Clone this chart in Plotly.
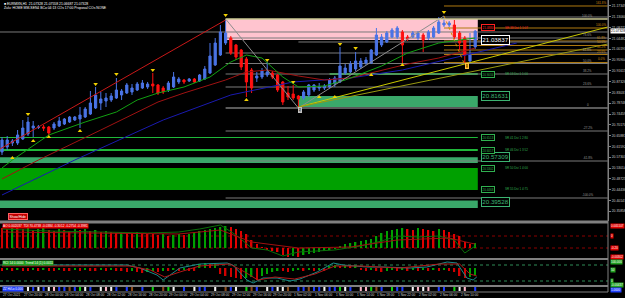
import plotly.graph_objects as go

# ---------------- data ----------------
OPEN = [20.5938, 20.6136, 20.6295, 20.6295, 20.6454, 20.6652, 20.6890, 20.6910, 20.6930, 20.6930,
        20.6890, 20.6970, 20.7049, 20.7129, 20.7208, 20.7248, 20.7327, 20.7446, 20.7684, 20.7883,
        20.7962, 20.8002, 20.8081, 20.8201, 20.8280, 20.8320, 20.8399, 20.8478, 20.8518, 20.8637,
        20.8598, 20.8478, 20.8399, 20.8518, 20.8717, 20.8796, 20.8756, 20.8836, 20.8756, 20.8836,
        20.9074, 20.9392, 20.9789, 21.0265, 21.0463, 21.0186, 20.9987, 20.9630, 20.9193, 20.8875,
        20.8915, 20.8995, 20.9074, 20.8995, 20.8717, 20.8280, 20.8240, 20.8161, 20.8081, 20.8201,
        20.8399, 20.8478, 20.8478, 20.8518, 20.8637, 20.8717, 20.9074, 20.9114, 20.9233, 20.9312,
        20.9471, 20.9471, 20.9789, 21.0186, 21.0305, 21.0503, 21.0503, 21.0702, 21.0503, 21.0503,
        21.0463, 21.0583, 21.0463, 21.0503, 21.0662, 21.0980, 21.0980, 21.0980, 21.0662, 21.0463,
        20.9550, 21.0106]
HIGH = [20.6533, 20.6573, 20.6454, 20.6811, 20.7208, 20.7327, 20.7168, 20.7010, 20.7010, 20.6970,
        20.7129, 20.7327, 20.7287, 20.7367, 20.7367, 20.7724, 20.7724, 20.8359, 20.8518, 20.8320,
        20.8280, 20.8280, 20.8875, 20.8439, 20.8677, 20.8637, 20.8717, 20.8796, 20.8717, 20.9074,
        20.8637, 20.8558, 20.8756, 20.9114, 20.8915, 20.8836, 20.8875, 20.8875, 20.9034, 20.9352,
        21.0265, 21.0463, 21.0980, 21.1178, 21.0543, 21.0225, 21.0027, 20.9709, 20.9272, 20.9114,
        20.9272, 20.9511, 20.9153, 20.9034, 20.8756, 20.8558, 20.8598, 20.8201, 20.8399, 20.8637,
        20.8637, 20.8677, 20.8637, 20.8875, 20.8955, 21.0106, 20.9431, 20.9550, 20.9908, 20.9669,
        20.9709, 21.0027, 21.0860, 21.0622, 21.0741, 21.0860, 21.0940, 21.0781, 21.0583, 21.0741,
        21.0741, 21.0662, 21.0781, 21.0940, 21.1297, 21.1337, 21.1138, 21.1178, 21.0741, 21.0543,
        21.0662, 21.0781]
LOW = [20.5818, 20.6017, 20.6176, 20.6216, 20.6414, 20.6573, 20.6533, 20.6851, 20.6771, 20.6613,
       20.6811, 20.6930, 20.7010, 20.7089, 20.7168, 20.6890, 20.7287, 20.7407, 20.7645, 20.7605,
       20.7724, 20.7923, 20.8042, 20.8002, 20.8240, 20.8201, 20.8359, 20.8439, 20.8439, 20.8280,
       20.8201, 20.8240, 20.8320, 20.8478, 20.8637, 20.8637, 20.8717, 20.8677, 20.8717, 20.8796,
       20.9034, 20.9352, 20.9749, 21.0186, 20.9789, 20.9590, 20.9193, 20.8121, 20.8280, 20.8717,
       20.8836, 20.8915, 20.8836, 20.8320, 20.7804, 20.8002, 20.8002, 20.7724, 20.8002, 20.8121,
       20.8320, 20.8359, 20.8399, 20.8478, 20.8518, 20.8677, 20.8995, 20.9074, 20.9153, 20.9233,
       20.9392, 20.9431, 20.9749, 21.0106, 21.0265, 21.0463, 21.0424, 20.9471, 21.0344, 21.0463,
       21.0384, 20.9908, 21.0384, 21.0463, 21.0622, 21.0900, 21.0900, 21.0424, 20.9987, 20.9471,
       20.9471, 21.0027]
CLOSE = [20.6414, 20.6414, 20.6374, 20.6613, 20.6890, 20.7129, 20.6970, 20.6930, 20.6890, 20.6692,
         20.7049, 20.7168, 20.7248, 20.7327, 20.7327, 20.7407, 20.7645, 20.7883, 20.8201, 20.8042,
         20.8081, 20.8161, 20.8399, 20.8359, 20.8598, 20.8478, 20.8637, 20.8677, 20.8637, 20.8558,
         20.8280, 20.8320, 20.8677, 20.8915, 20.8836, 20.8717, 20.8836, 20.8717, 20.8995, 20.9233,
         20.9749, 21.0265, 21.0702, 21.0662, 20.9868, 20.9709, 20.9312, 20.8717, 20.8478, 20.8955,
         20.9153, 20.9114, 20.8915, 20.8399, 20.7923, 20.8121, 20.8081, 20.8042, 20.8320, 20.8598,
         20.8598, 20.8518, 20.8558, 20.8796, 20.8875, 20.9352, 20.9272, 20.9431, 20.9550, 20.9550,
         20.9590, 20.9987, 21.0583, 21.0503, 21.0662, 21.0781, 21.0860, 21.0186, 21.0424, 21.0662,
         21.0662, 21.0384, 21.0702, 21.0860, 21.1099, 21.1059, 21.1059, 21.0503, 21.0265, 20.9789,
         20.9789, 21.07328]
BARS = list(range(len(CLOSE)))

TIME_LABEL_BARS = [0, 4, 8, 12, 16, 20, 24, 28, 32, 36, 40, 44, 48, 52, 56, 60, 64, 68, 72, 76, 80, 84, 88]
TIME_LABELS = ["27 Oct 2021", "27 Oct 20:00", "28 Oct 00:00", "28 Oct 04:00", "28 Oct 08:00",
               "28 Oct 12:00", "28 Oct 16:00", "28 Oct 20:00", "29 Oct 00:00", "29 Oct 04:00",
               "29 Oct 08:00", "29 Oct 12:00", "29 Oct 16:00", "29 Oct 20:00", "1 Nov 02:00",
               "1 Nov 06:00", "1 Nov 10:00", "1 Nov 14:00", "1 Nov 18:00", "1 Nov 22:00",
               "2 Nov 02:00", "2 Nov 06:00", "2 Nov 10:00"]

PRICE_TICKS = [21.17349, 21.13060, 21.08771, 21.04482, 21.00193, 20.95904, 20.91615, 20.87326,
               20.83037, 20.78748, 20.74459, 20.70170, 20.65881, 20.61592, 20.57303, 20.53014,
               20.48725, 20.44436, 20.40147, 20.35858]
LAST_PRICE = 21.07328
PRICE_MIN, PRICE_MAX = 20.31983, 21.1972

GREEN_MA_BARS = [0, 2, 9, 16, 22, 26, 30, 35, 40, 44, 47, 50, 54, 57, 62, 66, 70, 73, 78, 84, 88, 91]
GREEN_MA = [20.5302, 20.5620, 20.6613, 20.7129, 20.7526, 20.8002, 20.8280, 20.8518, 20.8915, 20.9511,
            20.9789, 20.9669, 20.8915, 20.8518, 20.8558, 20.8796, 20.9114, 20.9352, 20.9868, 21.0265,
            21.0384, 21.0463]
DARKRED_MA_BARS = [0, 7, 19, 30, 35, 43, 47, 51, 57, 62, 67, 73, 78, 84, 91]
DARKRED_MA = [20.4866, 20.5620, 20.6811, 20.7923, 20.8280, 20.8796, 20.9114, 20.9193, 20.8955, 20.8796,
              20.8875, 20.9193, 20.9431, 20.9669, 21.0066]
BLUE_MA_BARS = [0, 14, 31, 44, 56, 67, 77, 91, 99]
BLUE_MA = [20.4231, 20.5620, 20.7208, 20.8201, 20.8717, 20.8875, 20.9193, 20.9868, 21.0265]

CHANNEL_BARS = [-0.4, 43]
CHANNEL = [20.6057, 21.1178]
ZIGZAG_BARS = [43, 57, 85]
ZIGZAG = [21.1218, 20.7684, 21.1337]
ZIGZAG2_BARS = [85, 89]
ZIGZAG2 = [21.1337, 20.9392]
RAY_END_BAR = 116.5
TREND1_BARS = [57, RAY_END_BAR]
TREND1 = [20.7724, 21.0900]
TREND2_BARS = [57, RAY_END_BAR]
TREND2 = [20.7724, 21.0225]

FRACTAL_UP_BARS = [5, 18, 22, 29, 43, 51, 56, 65, 68, 85]
FRACTAL_UP = [20.7446, 20.8637, 20.9034, 20.9193, 21.1377, 20.9590, 20.8717, 21.0225, 21.0066, 21.1496]
FRACTAL_DN_BARS = [2, 6, 9, 15, 47, 61, 64, 71, 77]
FRACTAL_DN = [20.5699, 20.6374, 20.6533, 20.6771, 20.8002, 20.8121, 20.8121, 20.8995, 20.9392]

ZONE_START = [43, 63, 57, -1, -1, -1, -1, -1]
ZONE_TOP = [21.1218, 20.9074, 20.81631, 20.6533, 20.6057, 20.57309, 20.5302, 20.4010]
ZONE_BOTTOM = [21.03837, 20.8995, 20.7724, 20.6493, 20.5977, 20.5501, 20.4429, 20.3714]
ZONE_KIND = ["supply", "thin", "demand", "thin", "thin", "demand", "strong", "demand"]
ZONE_END_BAR = 91.5

FIB_GRAY_START = 43
FIB_GRAY = [21.1218, 21.0463, 20.9868, 20.9451, 20.9034, 20.8518, 20.7684, 20.6771, 20.5580, 20.4111]
FIB_GRAY_LABELS = ["100.0%", "78.6%", "61.8%", "50.0%", "38.2%", "23.6%", "0", "-27.2%", "-61.8%", "-100.0%"]
FIB_ORANGE_START = 85
FIB_ORANGE = [21.1734, 21.0860, 21.0344, 21.0166, 20.9987, 20.9808, 20.9491]
FIB_ORANGE_LABELS = ["161.8%", "100.0%", "61.8%", "50.0%", "38.2%", "23.6%", "0.0%"]

HLINE_PRICES = [21.0702, 21.1297, 21.0305]
HLINE_START = [-1, 85, 57]

BIG_LABELS = [21.03837, 20.81631, 20.57309, 20.39528]
SMALL_LABELS = [21.0880, 20.9034, 20.6513, 20.6017, 20.5302, 20.4468]
SMALL_LABEL_NOTES = ["SR 38 Dst 1 1:07", "SR 18 Dst 1 1:00", "SR 41 Dst 1 2:80",
                     "SR 46 Dst 1 3:52", "SR 50 Dst 1 4:00", "SR 55 Dst 1 4:75"]

AO = [20, 19, 21, 20, 19, 20, 18, 19, 20, 18, 17, 19, 18, 17, 19, 18, 19, 17, 18, 16,
      17, 16, 15, 16, 15, 14, 16, 15, 14, 14, 13, 14, 12, 13, 14, 13, 14, 15, 17, 18,
      19, 20, 21, 22, 21, 19, 17, 14, 8, 4, 1, -2, -3, -4, -7, -9, -8, -9, -7, -6,
      -5, -4, -3, -2, -1, 2, 4, 5, 6, 7, 8, 9, 12, 15, 17, 18, 19, 20, 19, 18,
      20, 19, 18, 17, 19, 18, 16, 14, 12, 6, 4, 5]
AO_LINE_BARS = [0, 9, 19, 28, 34, 38, 42, 45, 48, 51, 54, 57, 64, 69, 73, 76, 80, 84, 87, 89, 91]
AO_LINE = [19, 17, 16, 15, 16, 19, 23, 13, 0, -2, -8, -4, -2, 2, 7, 12, 11, 12, 8, -5, 2]
AO_SIG_BARS = [0, 19, 34, 42, 48, 57, 67, 76, 86, 90, 91]
AO_SIG = [16, 15, 14, 18, 6, 0, 1, 8, 10, 5, 4]
AO_LEVELS = [12, 0]

RCI_HIST = [-3, -2, -3, -2, -3, -3, -2, -3, -2, -3, -3, -2, -3, -3, -2, -3, -2, -3, -3, -2,
            -3, -2, -3, -3, -4, -3, -4, -5, -4, -3, -4, -3, -3, -2, -3, -2, -3, -3, 4, 5,
            4, 5, -6, -8, -9, -10, -11, -10, -9, -12, -8, -6, -4, -3, -3, -4, -3, -2, -3, -2,
            -3, -2, -3, 2, 3, 2, 3, 2, 3, -2, -3, -2, -3, -4, -3, -2, -3, -2, -3, -2,
            -3, -2, -3, -2, -3, -2, -3, -4, -8, -10, -9, -7]
RCI_FAST_BARS = [0, 24, 26.5, 29.8, 31, 32.3, 34.2, 38, 43.3, 44.4, 47.1, 48.3, 50.2, 52.9, 55.4,
                 57.3, 60.6, 63.7, 65.6, 70.2, 73.3, 78.5, 81.7, 85.6, 87.5, 89.4, 90.6, 91.3]
RCI_FAST = [3, 3, 0, -7, -12, -7, 0, 4, 5, 3, -12, -15, -10, -10, -13, -11, -4, 5, 3, 1, 1, 0, 1,
            6, 5, -10, -12, -9]
RCI_SLOW_BARS = [0, 24.6, 28.5, 31.3, 34.2, 38, 43.8, 46.7, 49.2, 52.5, 56.3, 60.2, 64, 68.8, 76.5,
                 84.2, 88, 90, 91.3]
RCI_SLOW = [2, 2, -2, -9, -4, 2, 4, -4, -12, -9, -11, -6, 2, 2, 0, 4, 4, -6, -8]
RCI_LEVELS = [3, -13]

STRIP_BARS = [5, 6, 7, 8, 9, 10, 11, 12, 13, 14, 15, 16, 17, 19, 20, 21, 22, 24, 25, 27, 29, 31, 32,
              33, 35, 37, 38, 39, 41, 43, 44, 45, 47, 48, 49, 51, 52, 53, 54, 55, 57, 58, 59, 60, 61,
              62, 63, 64, 65, 66, 67, 69, 70, 71, 72, 73, 75, 76, 77, 79, 80, 81, 82, 84, 85, 87,
              88, 89, 91]
STRIP_STATE = ["w", "b", "w", "b", "w", "p", "b", "b", "r", "b", "g", "w", "b", "w", "p", "w", "b",
               "b", "r", "b", "g", "r", "g", "w", "b", "w", "b", "b", "w", "r", "b", "w", "g", "r",
               "b", "w", "b", "w", "w", "r", "b", "b", "r", "b", "b", "w", "b", "b", "g", "w", "b",
               "p", "p", "g", "r", "b", "g", "b", "b", "w", "p", "w", "p", "b", "b", "g", "w", "p",
               "b"]

# ---------------- layout helpers ----------------
W, H = 625, 298
X_RANGE = [-0.385, 116.54]
XD = [0, 608 / W]


def py(p):
    return 1 - p / H


FONT = "Liberation Sans"
fig = go.Figure()

# candles
fig.add_trace(go.Candlestick(
    x=BARS, open=OPEN, high=HIGH, low=LOW, close=CLOSE, whiskerwidth=0,
    increasing=dict(line=dict(color="#4a74e6", width=1), fillcolor="#4a74e6"),
    decreasing=dict(line=dict(color="#ff1010", width=1), fillcolor="#ff1010"),
    xaxis="x", yaxis="y", showlegend=False, hoverinfo="skip"))


def line(xs, ys, color, width=1, dash="solid", ax=("x", "y")):
    fig.add_trace(go.Scatter(x=xs, y=ys, mode="lines", line=dict(color=color, width=width, dash=dash),
                             xaxis=ax[0], yaxis=ax[1], showlegend=False, hoverinfo="skip"))


line(CHANNEL_BARS, CHANNEL, "#c81818")
line(BLUE_MA_BARS, BLUE_MA, "#1a1ab0")
line(DARKRED_MA_BARS, DARKRED_MA, "#a01212")
line(GREEN_MA_BARS, GREEN_MA, "#12a012")
line(ZIGZAG_BARS, ZIGZAG, "#8c8c8c")
line(ZIGZAG2_BARS, ZIGZAG2, "#d08a00", dash="dot")
line(TREND1_BARS, TREND1, "#c8c800")
line(TREND2_BARS, TREND2, "#9a9a10")

fig.add_trace(go.Scatter(x=FRACTAL_UP_BARS, y=FRACTAL_UP, mode="markers",
                         marker=dict(symbol="triangle-down", size=4, color="#f0d000"),
                         showlegend=False, hoverinfo="skip"))
fig.add_trace(go.Scatter(x=FRACTAL_DN_BARS, y=FRACTAL_DN, mode="markers",
                         marker=dict(symbol="triangle-up", size=4, color="#f0d000"),
                         showlegend=False, hoverinfo="skip"))

# sub panel 1 (AO)
ao_colors = ["#d00000"] + ["#00a000" if AO[i] > AO[i - 1] else "#e00000" for i in range(1, len(AO))]
fig.add_trace(go.Bar(x=BARS, y=AO, marker=dict(color=ao_colors, line=dict(width=0)), width=0.3,
                     xaxis="x2", yaxis="y2", showlegend=False, hoverinfo="skip"))
line(AO_LINE_BARS, AO_LINE, "#0a6e0a", ax=("x2", "y2"))
line(AO_SIG_BARS, AO_SIG, "#a01010", ax=("x2", "y2"))

# sub panel 2 (RCI)
rci_colors = ["#d00000"] + ["#00a000" if RCI_HIST[i] > RCI_HIST[i - 1] else "#d00000"
                            for i in range(1, len(RCI_HIST))]
fig.add_trace(go.Bar(x=BARS, y=RCI_HIST, marker=dict(color=rci_colors, line=dict(width=0)), width=0.3,
                     xaxis="x3", yaxis="y3", showlegend=False, hoverinfo="skip"))
line(RCI_FAST_BARS, RCI_FAST, "#1a8c8c", ax=("x3", "y3"))
line(RCI_SLOW_BARS, RCI_SLOW, "#b01818", ax=("x3", "y3"))

# strip
STRIP_COLORS = {"w": "#f4f4f4", "b": "#1e3cff", "p": "#ffb6c8", "r": "#8b4a1a", "g": "#10d010"}
fig.add_trace(go.Bar(x=STRIP_BARS, y=[1] * len(STRIP_BARS),
                     marker=dict(color=[STRIP_COLORS[s] for s in STRIP_STATE], line=dict(width=0)),
                     width=0.4, xaxis="x4", yaxis="y4", showlegend=False, hoverinfo="skip"))

shapes = []
ZONE_FILL = {"supply": "#ffc4cf", "thin": "#1fb83a", "demand": "#3aa86a", "strong": "#00a000"}
for s, t, b, k in zip(ZONE_START, ZONE_TOP, ZONE_BOTTOM, ZONE_KIND):
    shapes.append(dict(type="rect", xref="x", yref="y", x0=s, x1=ZONE_END_BAR, y0=b, y1=t,
                       fillcolor=ZONE_FILL[k], line=dict(width=0), layer="below"))
for i, p in enumerate(FIB_GRAY):
    shapes.append(dict(type="line", xref="x", yref="y", x0=FIB_GRAY_START, x1=RAY_END_BAR, y0=p, y1=p,
                       line=dict(color="#5a5a5a" if i == 6 else "#7a7a7a", width=2 if i == 6 else 1),
                       layer="below"))
for p in FIB_ORANGE:
    shapes.append(dict(type="line", xref="x", yref="y", x0=FIB_ORANGE_START, x1=RAY_END_BAR, y0=p, y1=p,
                       line=dict(color="#b07a10", width=1), layer="below"))
for s, p in zip(HLINE_START, HLINE_PRICES):
    shapes.append(dict(type="line", xref="x", yref="y", x0=s, x1=RAY_END_BAR, y0=p, y1=p,
                       line=dict(color="#7a7a7a", width=1), layer="below"))
shapes.append(dict(type="line", xref="x", yref="y", x0=FIB_GRAY_START, x1=RAY_END_BAR,
                   y0=ZONE_TOP[0], y1=ZONE_TOP[0], line=dict(color="#f2f0a0", width=1)))
for lv in AO_LEVELS:
    shapes.append(dict(type="line", xref="paper", yref="y2", x0=0, x1=XD[1], y0=lv, y1=lv,
                       line=dict(color="#8b0000", width=1, dash="dot"), layer="below"))
for lv in RCI_LEVELS:
    shapes.append(dict(type="line", xref="paper", yref="y3", x0=0, x1=XD[1], y0=lv, y1=lv,
                       line=dict(color="#2e8b57", width=1, dash="dot"), layer="below"))
for yy, wd in [(222, 3), (259, 2), (286, 2), (292, 1)]:
    shapes.append(dict(type="line", xref="paper", yref="paper", x0=0, x1=XD[1], y0=py(yy), y1=py(yy),
                       line=dict(color="#808080", width=wd)))
shapes.append(dict(type="line", xref="paper", yref="paper", x0=XD[1], x1=XD[1], y0=py(292), y1=1,
                   line=dict(color="#808080", width=1)))

ann = []


def txt(x, y, text, size=3.2, color="#e0e0e0", xref="paper", yref="paper", xanchor="left",
        yanchor="middle", bg=None, border=None, pad=0):
    d = dict(x=x, y=y, xref=xref, yref=yref, text=text, showarrow=False, xanchor=xanchor,
             yanchor=yanchor, font=dict(size=size, color=color, family=FONT), borderpad=pad)
    if bg:
        d["bgcolor"] = bg
    if border:
        d["bordercolor"] = border
        d["borderwidth"] = 1
    ann.append(d)


txt(3 / W, py(4), "■ EURMXN,H1  21.07328 21.07558 21.06687 21.07328", size=3.4, color="#ffffff")
txt(3 / W, py(8.5), "Zulu: HOME MM-SEN4 BCo 04:13 COs 17:00 Proposal COs NONE", size=3.4, color="#ffffff")
txt(8 / W, py(216), "Show/Hide", size=3.4, color="#ffffff", bg="#c00000", border="#ff6060", pad=0.5)
txt(2 / W, py(225.5), "AO 0.002037  TDI 70.4738 -0.0384 -0.3012 -0.2754 -0.3981", size=3.2,
    color="#ffffff", bg="#e00000")
txt(2 / W, py(263), "RCI 14 0.0000  Trend 14 (1) 0.0011", size=3.2, color="#ffffff", bg="#20a020")
txt(2 / W, py(289), "ZZ Hi/Lo 0.000", size=3, color="#ffffff", bg="#2040ff")

for b, t in zip(TIME_LABEL_BARS, TIME_LABELS):
    txt(b, py(294.5), t, size=3.2, color="#d0d0d0", xref="x", xanchor="left")

txt(609.5 / W, LAST_PRICE, "21.07328", size=3.4, color="#000000", yref="y", bg="#ffffff")

for p, lab in zip(FIB_GRAY, FIB_GRAY_LABELS):
    txt(112.6, p, lab, size=3, color="#9a9a9a", xref="x", yref="y", xanchor="center", yanchor="bottom")
for p, lab in zip(FIB_ORANGE, FIB_ORANGE_LABELS):
    txt(115.3, p, lab, size=3, color="#d08c10", xref="x", yref="y", xanchor="center", yanchor="bottom")

for i, p in enumerate(BIG_LABELS):
    c = "#ffffff" if i == 0 else "#3cb371"
    txt(92.1, p, f"{p:.5f}", size=6.2, color=c, xref="x", yref="y", bg="#000000", border=c, pad=0.3)
for i, (p, note) in enumerate(zip(SMALL_LABELS, SMALL_LABEL_NOTES)):
    c = "#ff2020" if i == 0 else "#30b050"
    txt(92.1, p, f"{p:.4f}", size=3, color=c, xref="x", yref="y", bg="#000000", border=c, pad=0.5)
    txt(96.6, p, note, size=3, color=c, xref="x", yref="y")

for yy, t, bg in [(225.5, "0.005107", "#e00000"), (236, "0", "#e00000"), (248, "-0.20", "#e00000"),
                  (257, "-0.00302", "#e00000"), (262, "100.000", "#20a020"), (270, "50", "#20a020"),
                  (281, "0", "#20a020"), (284.5, "-0.00437", "#20a020"), (289.5, "1.0000", "#2040ff")]:
    txt(609.5 / W, py(yy), t, size=3, color="#ffffff", bg=bg)

txt(57, 20.7604, "2", size=3, color="#000000", xref="x", yref="y", bg="#a0a0a0", border="#c0c0c0")
txt(89, 20.9352, "1", size=3, color="#000000", xref="x", yref="y", bg="#d08a00", border="#ffc040")

axis_common = dict(domain=XD, range=X_RANGE, visible=False, fixedrange=True)
fig.update_layout(
    width=W, height=H, margin=dict(l=0, r=0, t=0, b=0),
    paper_bgcolor="#000000", plot_bgcolor="#000000", showlegend=False,
    barmode="overlay", boxgap=0.4,
    xaxis=dict(**axis_common, anchor="y", rangeslider=dict(visible=False)),
    xaxis2=dict(**axis_common, anchor="y2"),
    xaxis3=dict(**axis_common, anchor="y3"),
    xaxis4=dict(**axis_common, anchor="y4"),
    yaxis=dict(domain=[py(221), 1], range=[PRICE_MIN, PRICE_MAX], side="right", anchor="x",
               showgrid=False, zeroline=False, showline=True, linecolor="#808080", linewidth=1,
               ticks="outside", ticklen=2, tickcolor="#808080", tickvals=PRICE_TICKS,
               ticktext=[f"{v:.5f}" for v in PRICE_TICKS],
               tickfont=dict(size=3.4, color="#c8c8c8", family=FONT)),
    yaxis2=dict(domain=[py(258), py(223)], range=[-10, 25], visible=False, anchor="x2"),
    yaxis3=dict(domain=[py(285), py(260)], range=[-17, 8], visible=False, anchor="x3"),
    yaxis4=dict(domain=[py(291), py(287)], range=[0, 1], visible=False, anchor="x4"),
    shapes=shapes, annotations=ann,
)

fig.write_html("out.html")
